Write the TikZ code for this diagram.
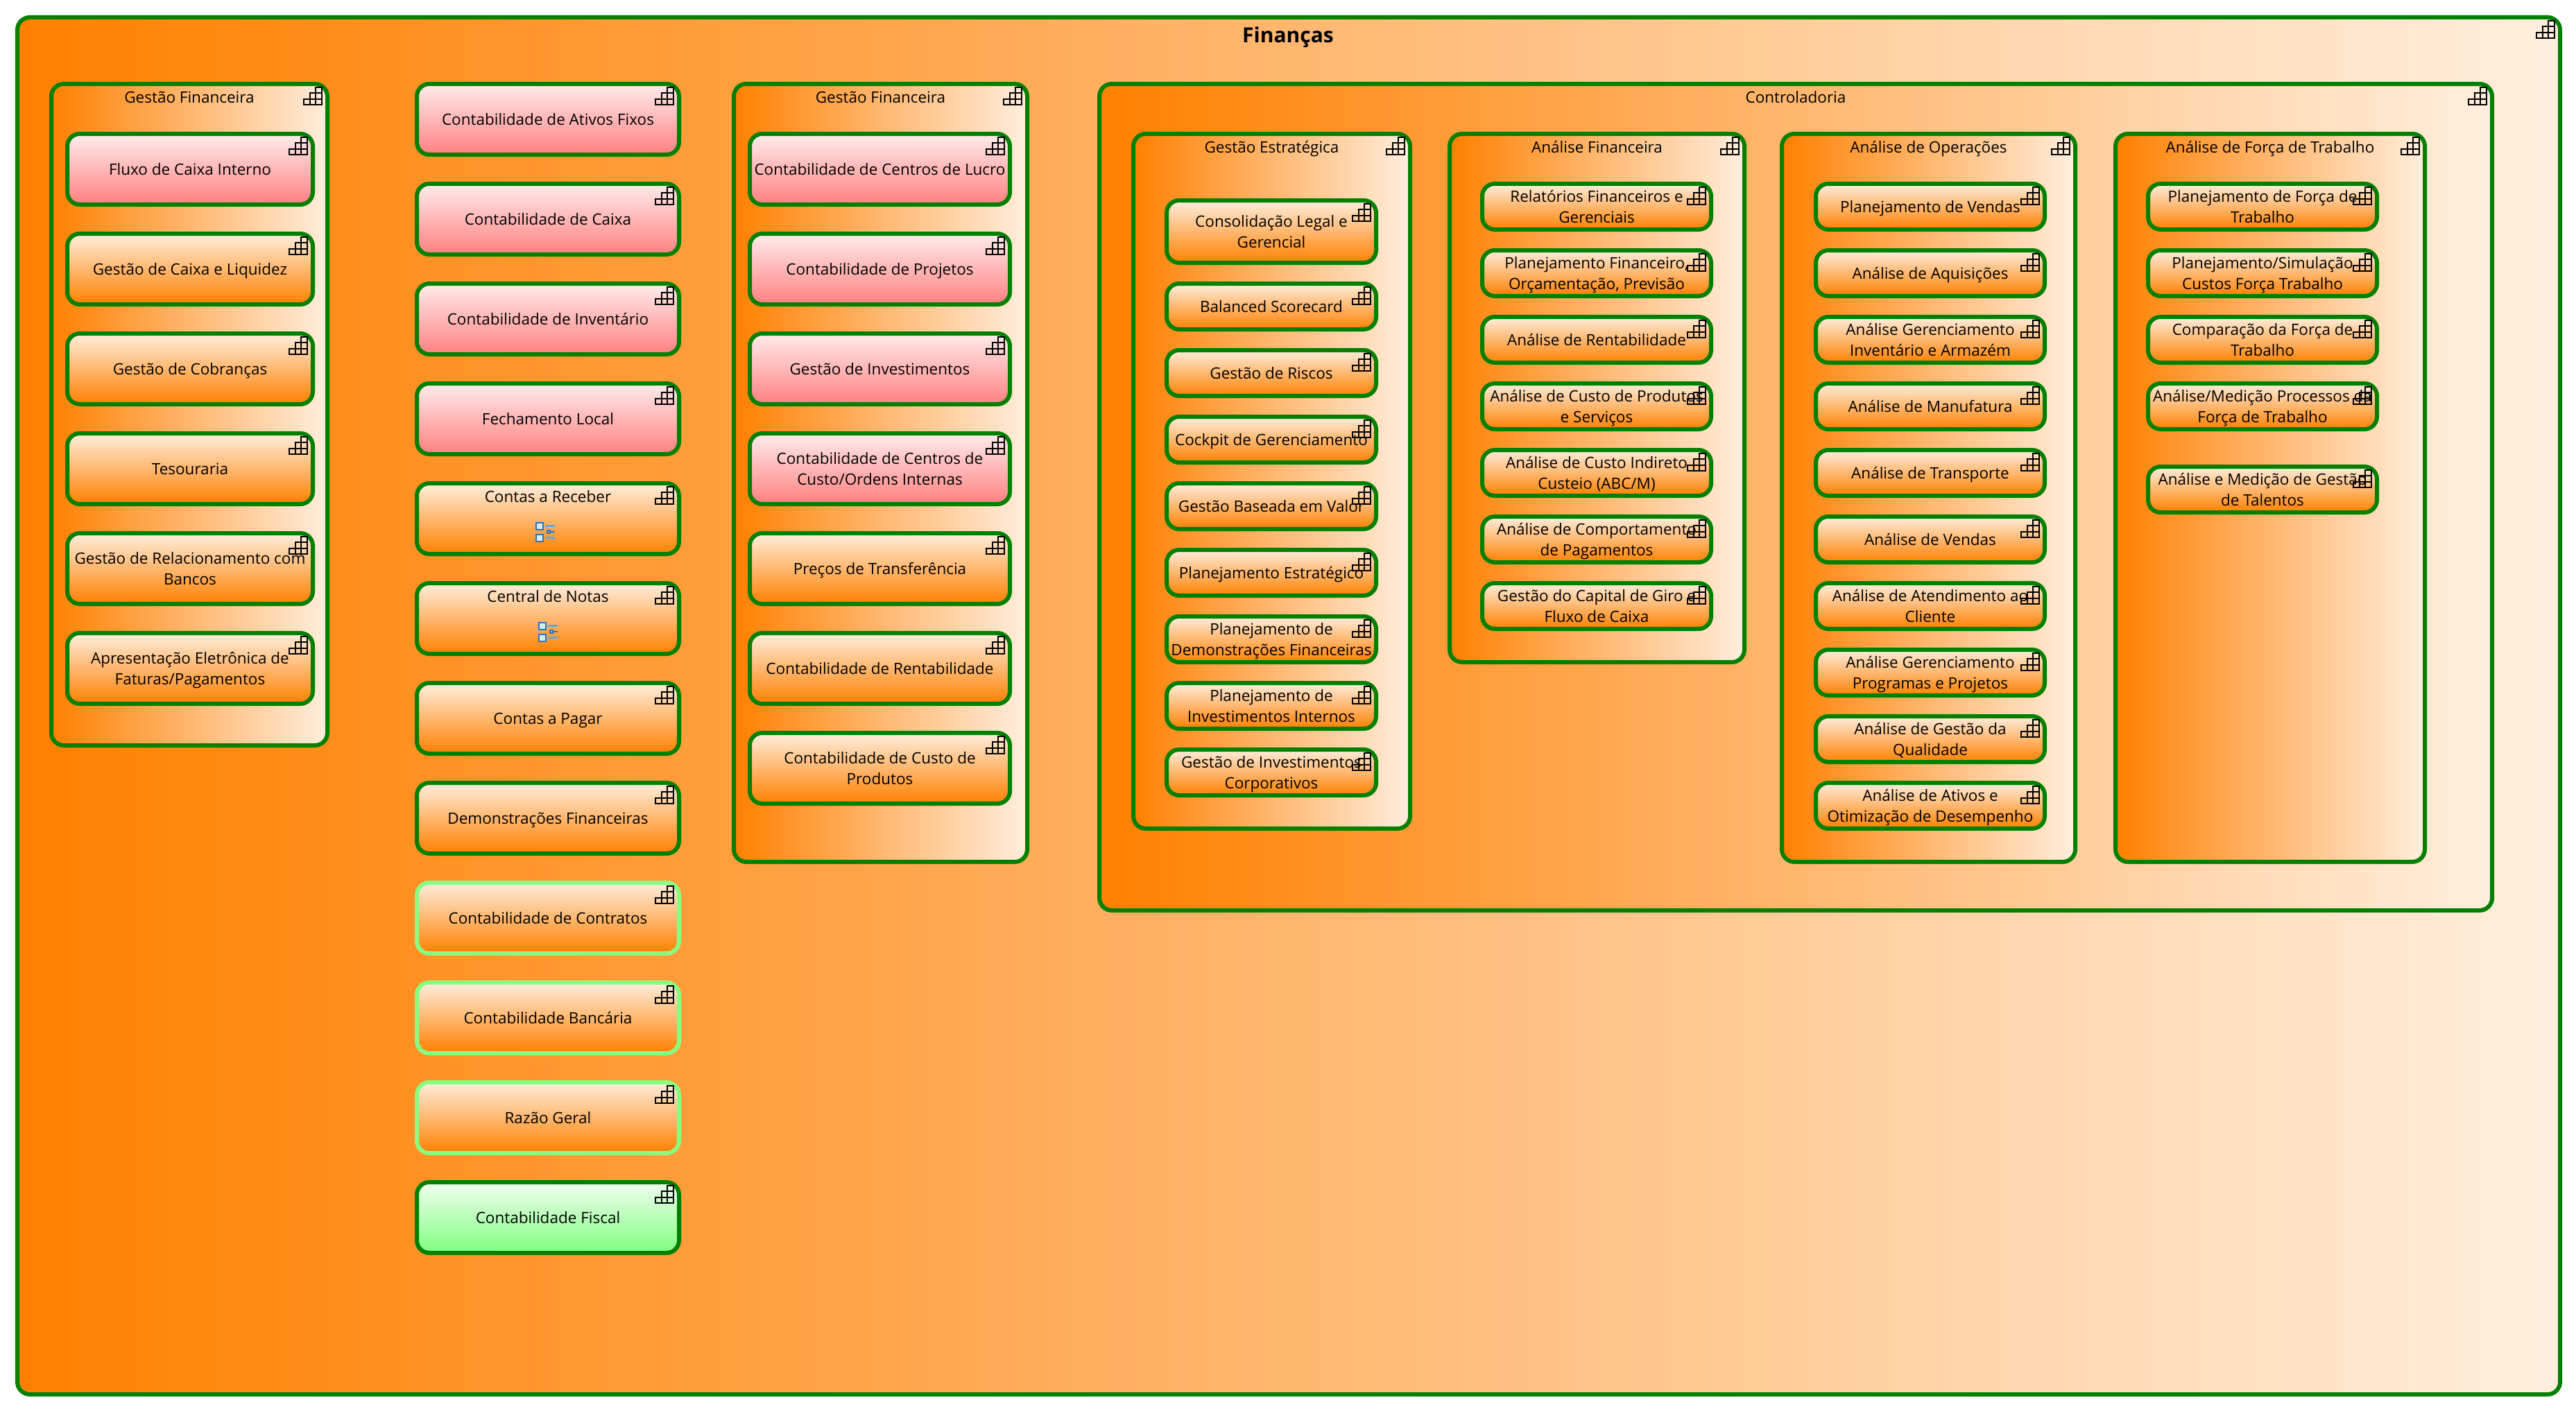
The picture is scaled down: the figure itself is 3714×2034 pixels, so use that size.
\documentclass[tikz,border=0pt]{standalone}
\usepackage{fontspec}
\setmainfont{Open Sans}
\definecolor{framegreen}{RGB}{0,128,0}
\definecolor{lightframe}{RGB}{136,255,128}
\definecolor{baseorange}{RGB}{255,128,0}
\definecolor{paleorange}{RGB}{255,238,221}
\definecolor{palered}{RGB}{255,236,236}
\definecolor{basered}{RGB}{255,128,128}
\definecolor{palegreen}{RGB}{240,255,240}
\definecolor{basegreen}{RGB}{128,255,128}
\definecolor{iconblue}{RGB}{30,120,200}
\definecolor{iconfill}{RGB}{210,235,250}
\definecolor{iconline}{RGB}{90,170,225}
\newcommand{\capfont}{\fontsize{22.5}{30}\selectfont}
\begin{document}
\begin{tikzpicture}[x=1pt,y=-1pt]
        \tikzset{
                frame/.style = {shape=rectangle,draw=framegreen,line width=6pt,rounded corners=18pt,anchor=north west,inner sep=0pt,outer sep=0pt,align=center,font=\capfont,text height=16pt,text depth=0pt},
                twoline/.style = {text height=46pt},
                group/.style = {frame,left color=baseorange,right color=paleorange},
                orangecard/.style = {frame,top color=paleorange,bottom color=baseorange},
                redcard/.style = {frame,top color=palered,bottom color=basered},
                greencard/.style = {frame,top color=palegreen,bottom color=basegreen},
                lightcard/.style = {orangecard,draw=lightframe},
                large/.style = {minimum width=378pt,minimum height=102pt},
                strategy/.style = {minimum width=302pt,minimum height=66pt},
                analysis/.style = {minimum width=330pt,minimum height=66pt},
                grouptitle/.style = {font=\capfont,inner sep=0pt,text height=17pt,text depth=6pt,yshift=-21.5pt},
                gridicon/.pic = {
                        \draw[black,line width=2pt] (-34,30) -- (-8,30) -- (-8,5) -- (-16.67,5) -- (-16.67,13.33) -- (-25.33,13.33) -- (-25.33,21.67) -- (-34,21.67) -- cycle
                                (-16.67,13.33) -- (-8,13.33) (-25.33,21.67) -- (-8,21.67) (-16.67,13.33) -- (-16.67,30) (-25.33,21.67) -- (-25.33,30);
                },
                listicon/.pic = {
                        \draw[iconblue,fill=iconfill,line width=2pt] (-17,6) rectangle (-7,16) (-17,23) rectangle (-7,33);
                        \draw[iconline,line width=3pt] (-4,10) -- (10,10) (-4,27) -- (10,27);
                        \draw[iconblue,line width=1.5pt] (-1,17) rectangle (3,21) (3,19) -- (10,19);
                }
        }
        \useasboundingbox (0,0) rectangle (3714,2034);
        % outer frame
        \node[group,minimum width=3666pt,minimum height=1986pt] (financas) at (25,25) {};
        \node[font=\fontsize{30}{30}\selectfont\bfseries,inner sep=0pt,text height=22pt,text depth=0pt] (financastitle) at (1857,51) {Finanças};
        % first column
        \node[group,minimum width=398pt,minimum height=954pt] (gf1) at (74,121) {};
        \node[grouptitle] (gf1title) at (gf1.north) {Gestão Financeira};
        \node[redcard,large,minimum width=354pt] (fluxo) at (97,193) {Fluxo de Caixa Interno};
        \node[orangecard,large,minimum width=354pt] (liquidez) at (97,337) {Gestão de Caixa e Liquidez};
        \node[orangecard,large,minimum width=354pt] (cobrancas) at (97,481) {Gestão de Cobranças};
        \node[orangecard,large,minimum width=354pt] (tesouraria) at (97,625) {Tesouraria};
        \node[orangecard,large,minimum width=354pt,twoline] (bancos) at (97,769) {Gestão de Relacionamento com\\Bancos};
        \node[orangecard,large,minimum width=354pt,twoline] (faturas) at (97,913) {Apresentação Eletrônica de\\Faturas/Pagamentos};
        % second column
        \node[redcard,large] (ativos) at (601,121) {Contabilidade de Ativos Fixos};
        \node[redcard,large] (caixa) at (601,265) {Contabilidade de Caixa};
        \node[redcard,large] (inventario) at (601,409) {Contabilidade de Inventário};
        \node[redcard,large] (fechamento) at (601,553) {Fechamento Local};
        \node[orangecard,large] (receber) at (601,697) {};
        \node[grouptitle] (recebertitle) at (receber.north) {Contas a Receber};
        \node[orangecard,large] (notas) at (601,841) {};
        \node[grouptitle] (notastitle) at (notas.north) {Central de Notas};
        \node[orangecard,large] (pagar) at (601,985) {Contas a Pagar};
        \node[orangecard,large] (demonstracoes) at (601,1129) {Demonstrações Financeiras};
        \node[lightcard,large] (contratos) at (601,1273) {Contabilidade de Contratos};
        \node[lightcard,large] (bancaria) at (601,1417) {Contabilidade Bancária};
        \node[lightcard,large] (razao) at (601,1561) {Razão Geral};
        \node[greencard,large] (fiscal) at (601,1705) {Contabilidade Fiscal};
        % third column
        \node[group,minimum width=423pt,minimum height=1122pt] (gf2) at (1058,121) {};
        \node[grouptitle] (gf2title) at (gf2.north) {Gestão Financeira};
        \node[redcard,large,minimum width=375pt] (lucro) at (1081,193) {Contabilidade de Centros de Lucro};
        \node[redcard,large,minimum width=375pt] (projetos) at (1081,337) {Contabilidade de Projetos};
        \node[redcard,large,minimum width=375pt] (investimentos) at (1081,481) {Gestão de Investimentos};
        \node[redcard,large,minimum width=375pt,twoline] (custo) at (1081,625) {Contabilidade de Centros de\\Custo/Ordens Internas};
        \node[orangecard,large,minimum width=375pt] (transferencia) at (1081,769) {Preços de Transferência};
        \node[orangecard,large,minimum width=375pt] (rentabilidade) at (1081,913) {Contabilidade de Rentabilidade};
        \node[orangecard,large,minimum width=375pt,twoline] (produtos) at (1081,1057) {Contabilidade de Custo de\\Produtos};
        % controladoria
        \node[group,minimum width=2008pt,minimum height=1192pt] (control) at (1585,121) {};
        \node[grouptitle] (controltitle) at (control.north) {Controladoria};
        % gestao estrategica
        \node[group,minimum width=399pt,minimum height=1002pt] (estrategica) at (1634,193) {};
        \node[grouptitle] (estrategicatitle) at (estrategica.north) {Gestão Estratégica};
        \node[orangecard,strategy,minimum height=90pt,twoline] (legal) at (1682,289) {Consolidação Legal e\\Gerencial};
        \node[orangecard,strategy] (scorecard) at (1682,409) {Balanced Scorecard};
        \node[orangecard,strategy] (riscos) at (1682,505) {Gestão de Riscos};
        \node[orangecard,strategy] (cockpit) at (1682,601) {Cockpit de Gerenciamento};
        \node[orangecard,strategy] (valor) at (1682,697) {Gestão Baseada em Valor};
        \node[orangecard,strategy] (estrategico) at (1682,793) {Planejamento Estratégico};
        \node[orangecard,strategy,twoline] (pdf) at (1682,889) {Planejamento de\\Demonstrações Financeiras};
        \node[orangecard,strategy,twoline] (internos) at (1682,985) {Planejamento de\\Investimentos Internos};
        \node[orangecard,strategy,twoline] (corporativos) at (1682,1081) {Gestão de Investimentos\\Corporativos};
        % analise financeira
        \node[group,minimum width=425pt,minimum height=762pt] (afin) at (2090,193) {};
        \node[grouptitle] (afintitle) at (afin.north) {Análise Financeira};
        \node[orangecard,analysis,twoline] (relatorios) at (2137,265) {Relatórios Financeiros e\\Gerenciais};
        \node[orangecard,analysis,twoline] (orcamento) at (2137,361) {Planejamento Financeiro,\\Orçamentação, Previsão};
        \node[orangecard,analysis] (arent) at (2137,457) {Análise de Rentabilidade};
        \node[orangecard,analysis,twoline] (acusto) at (2137,553) {Análise de Custo de Produtos\\e Serviços};
        \node[orangecard,analysis,twoline] (abc) at (2137,649) {Análise de Custo Indireto\\Custeio (ABC/M)};
        \node[orangecard,analysis,twoline] (pagamentos) at (2137,745) {Análise de Comportamento\\de Pagamentos};
        \node[orangecard,analysis,twoline] (giro) at (2137,841) {Gestão do Capital de Giro e\\Fluxo de Caixa};
        % analise de operacoes
        \node[group,minimum width=423pt,minimum height=1050pt] (aop) at (2569,193) {};
        \node[grouptitle] (aoptitle) at (aop.north) {Análise de Operações};
        \node[orangecard,analysis] (vendas) at (2618,265) {Planejamento de Vendas};
        \node[orangecard,analysis] (aquisicoes) at (2618,361) {Análise de Aquisições};
        \node[orangecard,analysis,twoline] (armazem) at (2618,457) {Análise Gerenciamento\\Inventário e Armazém};
        \node[orangecard,analysis] (manufatura) at (2618,553) {Análise de Manufatura};
        \node[orangecard,analysis] (transporte) at (2618,649) {Análise de Transporte};
        \node[orangecard,analysis] (avendas) at (2618,745) {Análise de Vendas};
        \node[orangecard,analysis,twoline] (atendimento) at (2618,841) {Análise de Atendimento ao\\Cliente};
        \node[orangecard,analysis,twoline] (programas) at (2618,937) {Análise Gerenciamento\\Programas e Projetos};
        \node[orangecard,analysis,twoline] (qualidade) at (2618,1033) {Análise de Gestão da\\Qualidade};
        \node[orangecard,analysis,twoline] (desempenho) at (2618,1129) {Análise de Ativos e\\Otimização de Desempenho};
        % analise de forca de trabalho
        \node[group,minimum width=446pt,minimum height=1050pt] (aft) at (3050,193) {};
        \node[grouptitle] (afttitle) at (aft.north) {Análise de Força de Trabalho};
        \node[orangecard,analysis,twoline] (forca) at (3097,265) {Planejamento de Força de\\Trabalho};
        \node[orangecard,analysis,twoline] (simulacao) at (3097,361) {Planejamento/Simulação\\Custos Força Trabalho};
        \node[orangecard,analysis,twoline] (comparacao) at (3097,457) {Comparação da Força de\\Trabalho};
        \node[orangecard,analysis,twoline] (medicao) at (3097,553) {Análise/Medição Processos da\\Força de Trabalho};
        \node[orangecard,analysis,twoline] (talentos) at (3097,673) {Análise e Medição de Gestão\\de Talentos};
        % icons
        \foreach \n in {financas,gf1,fluxo,liquidez,cobrancas,tesouraria,bancos,faturas,
                ativos,caixa,inventario,fechamento,receber,notas,pagar,demonstracoes,contratos,bancaria,razao,fiscal,
                gf2,lucro,projetos,investimentos,custo,transferencia,rentabilidade,produtos,
                control,estrategica,legal,scorecard,riscos,cockpit,valor,estrategico,pdf,internos,corporativos,
                afin,relatorios,orcamento,arent,acusto,abc,pagamentos,giro,
                aop,vendas,aquisicoes,armazem,manufatura,transporte,avendas,atendimento,programas,qualidade,desempenho,
                aft,forca,simulacao,comparacao,medicao,talentos}
                \pic at (\n.north east) {gridicon};
        \pic at (receber.center) {listicon};
        \pic at ([xshift=4pt]notas.center) {listicon};
\end{tikzpicture}
\end{document}
